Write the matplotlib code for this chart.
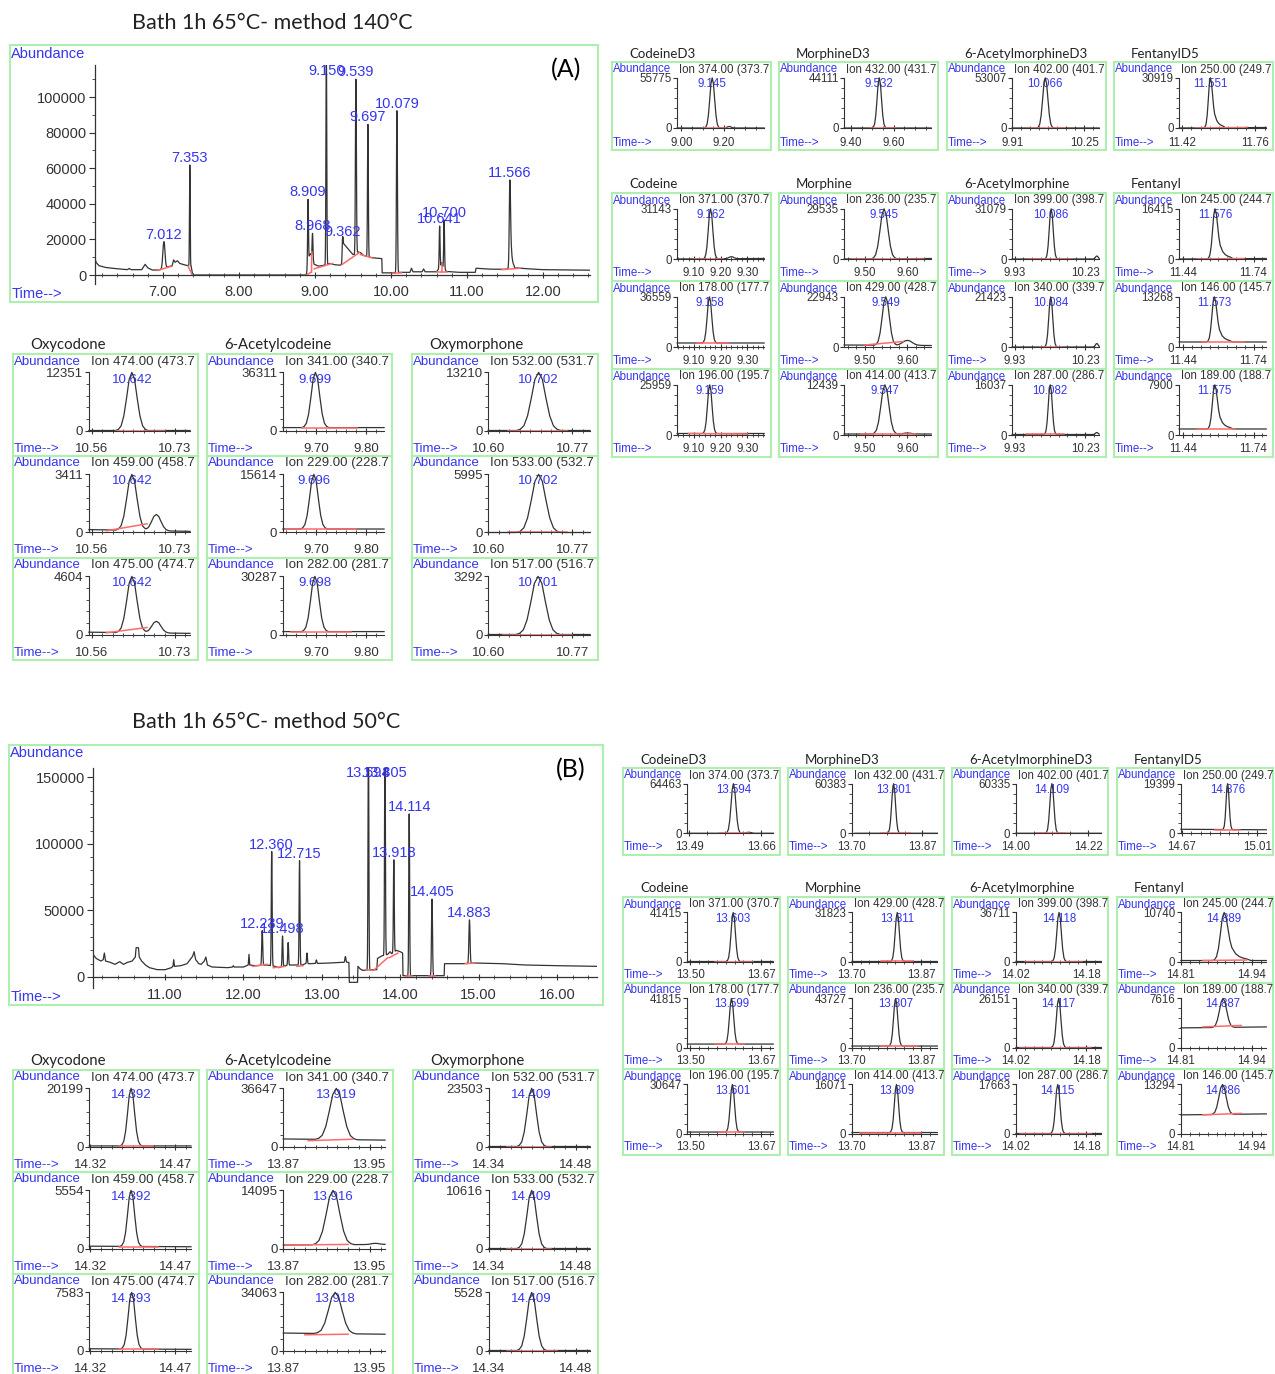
import matplotlib
matplotlib.use("Agg")
import matplotlib.pyplot as plt
import matplotlib.transforms as mtransforms
import numpy as np

W, H = 1275, 1374
BLUE = '#3535ee'
RED = '#ff6a6a'
INK = '#333333'
GREEN = '#aeeeae'
TITLE_FONT = ['Lato', 'DejaVu Sans']

plt.rcParams['font.family'] = ['Liberation Sans', 'DejaVu Sans']

# peak profiles: offset (in peak widths) -> fraction of height
SYM_X = [-3, -2.5, -2, -1.5, -1, -0.5, 0, 0.5, 1, 1.5, 2, 2.5, 3]
SYM_Y = [0, 0.02, 0.08, 0.25, 0.55, 0.88, 1, 0.88, 0.55, 0.25, 0.08, 0.02, 0]
TAIL_X = [-3, -2.5, -2, -1.5, -1, -0.5, 0, 0.5, 1, 1.5, 2, 3, 4, 5, 6, 7]
TAIL_Y = [0, 0.02, 0.08, 0.25, 0.55, 0.88, 1, 0.9, 0.66, 0.42, 0.27, 0.14, 0.08, 0.05, 0.03, 0]
PROFILE_X = {'sym': SYM_X, 'tail': TAIL_X}
PROFILE_Y = {'sym': SYM_Y, 'tail': TAIL_Y}

# ---------------- (A) method 140 C : total ion chromatogram ----------------
A_BASE_T = [6.105, 6.12, 6.16, 6.25, 6.4, 6.53, 6.555, 6.58, 6.72, 6.765, 6.80, 6.86, 6.95,
            7.08, 7.12, 7.14, 7.16, 7.19, 7.22, 7.30, 7.37, 7.385, 7.40, 8.885, 8.93, 8.945,
            8.99, 9.05, 9.12, 9.20, 9.26, 9.33, 9.355, 9.37, 9.40, 9.45, 9.50, 9.52, 9.565,
            9.60, 9.64, 9.68, 9.72, 9.80, 9.88, 9.885, 10.05, 10.12, 10.25, 10.27, 10.29,
            10.41, 10.43, 10.45, 10.60, 10.655, 10.668, 10.68, 10.73, 10.90, 11.11, 11.12,
            11.30, 11.50, 11.65, 11.80, 12.00, 12.62]
A_BASE_Y = [9500, 7000, 5200, 4200, 3500, 3000, 3700, 3000, 3000, 6000, 4000, 2800, 2800,
            4800, 5200, 8500, 7200, 8000, 6500, 5500, 5000, 1500, 0, 0, 11500, 12000,
            6000, 5000, 5500, 6500, 5800, 5500, 6000, 18000, 16500, 14000, 11500, 11500, 13000,
            12500, 11000, 10500, 10000, 9500, 9200, 1200, 1200, 1500, 1500, 3800, 1800,
            1800, 3400, 1800, 1800, 5000, 7000, 5000, 2000, 1500, 1500, 3800,
            3300, 3200, 4000, 3500, 3000, 2700]
A_PEAK_RT = [7.012, 7.353, 8.909, 8.968, 9.150, 9.362, 9.539, 9.697, 10.079, 10.641, 10.700, 11.566]
A_PEAK_TOP = [18700, 61800, 42500, 23400, 125000, 20200, 110000, 84600, 92300, 27500, 30900, 53400]
A_PEAK_W = [0.015, 0.005, 0.006, 0.006, 0.006, 0.006, 0.007, 0.006, 0.007, 0.006, 0.006, 0.009]
A_PEAK_SHAPE = ['sym'] * 11 + ['tail']
A_PEAK_LABEL = ['7.012', '7.353', '8.909', '8.968', '9.150', '9.362', '9.539', '9.697',
                '10.079', '10.641', '10.700', '11.566']
A_RED = [(6.93, 2600, 7.12, 5000), (7.33, 5000, 7.385, 0), (8.89, 0, 8.945, 1500),
         (8.955, 1500, 8.957, 13000), (8.99, 3500, 9.23, 6500), (9.36, 6000, 9.58, 12500),
         (9.60, 11500, 9.76, 9500), (10.02, 1000, 10.14, 1200), (10.60, 1600, 10.74, 1600),
         (10.668, 1600, 10.668, 7000), (11.46, 3000, 11.70, 3800)]

# ---------------- (B) method 50 C : total ion chromatogram ----------------
B_BASE_T = [10.08, 10.12, 10.18, 10.21, 10.225, 10.24, 10.30, 10.36, 10.42, 10.47, 10.52, 10.58,
            10.62, 10.63, 10.66, 10.67, 10.70, 10.75, 10.80, 10.90, 11.00, 11.08, 11.10, 11.11,
            11.12, 11.20, 11.28, 11.33, 11.35, 11.37, 11.39, 11.43, 11.46, 11.50, 11.52, 11.54,
            11.60, 11.80, 11.86, 11.87, 11.88, 12.00, 12.06, 12.07, 12.08, 12.15, 12.30, 12.40,
            12.45, 12.53, 12.60, 12.68, 12.75, 12.79, 12.85, 13.10, 13.25, 13.345, 13.35,
            13.455, 13.46, 13.49, 13.52, 13.70, 13.71, 13.77, 13.84, 13.87, 13.89, 13.95,
            14.00, 14.03, 14.035, 14.56, 14.565, 14.80, 14.95, 15.30, 15.60, 16.00, 16.51]
B_BASE_Y = [17000, 14000, 12000, 13000, 18000, 12000, 11000, 9500, 11500, 9500, 11000, 12000,
            15000, 22000, 22000, 15000, 12000, 9000, 7000, 5500, 5500, 7000, 8000, 13000,
            8000, 8500, 10000, 14000, 15500, 19000, 13000, 10000, 9500, 12000, 15000, 9000,
            7500, 7000, 7500, 8500, 7500, 7500, 9000, 17000, 9000, 8500, 9000, 8000,
            7000, 8500, 9000, 9000, 9000, 10000, 10000, 10500, 11000, 11000, -4000,
            -4000, 8000, 6000, 5000, 5500, 14000, 16000, 17000, 19000, 17500, 20000,
            19000, 18000, 1000, 1000, 10000, 10000, 10500, 10000, 9000, 8500, 8000]
B_PEAK_RT = [12.239, 12.360, 12.498, 12.57, 12.715, 12.81, 12.93, 13.30, 13.594, 13.805,
             13.918, 14.114, 14.405, 14.883]
B_PEAK_TOP = [34800, 94200, 30800, 25800, 87400, 18000, 12800, 15300, 175000, 175000,
              88000, 122500, 58400, 42900]
B_PEAK_W = [0.007, 0.006, 0.006, 0.006, 0.006, 0.006, 0.006, 0.007, 0.006, 0.006,
            0.006, 0.006, 0.007, 0.008]
B_PEAK_SHAPE = ['sym'] * 14
B_PEAK_LABEL = ['12.239', '12.360', '12.498', '', '12.715', '', '', '', '13.594', '13.805',
                '13.918', '14.114', '14.405', '14.883']
B_RED = [(12.12, 8000, 12.30, 9500), (12.38, 7000, 12.47, 7500), (12.47, 7500, 12.53, 8000),
         (12.68, 8000, 12.76, 8500), (13.56, 5000, 13.63, 5000), (13.66, 5000, 13.84, 14500),
         (13.86, 14500, 13.97, 18000), (14.07, 1000, 14.15, 1000), (14.37, 1000, 14.44, 1000),
         (14.83, 10000, 14.95, 10500)]

# ---------------- extracted ion panels ----------------
GROUPS = ['CodeineD3', 'MorphineD3', '6-AcetylmorphineD3', 'FentanylD5', 'Codeine', 'Morphine',
          '6-Acetylmorphine', 'Fentanyl', 'Oxycodone', '6-Acetylcodeine', 'Oxymorphone']
GROUP_SIZE = [1, 1, 1, 1, 3, 3, 3, 3, 3, 3, 3]

A_GROUP_XLIM = [(8.98, 9.39), (9.367, 9.776), (9.91, 10.32), (11.406, 11.81), (9.037, 9.363),
                (9.451, 9.656), (9.92, 10.29), (11.423, 11.794), (10.554, 10.761),
                (9.634, 9.836), (10.60, 10.806)]
A_GROUP_TICKS = [(9.00, 9.20), (9.40, 9.60), (9.91, 10.25), (11.42, 11.76), (9.10, 9.20, 9.30),
                 (9.50, 9.60), (9.93, 10.23), (11.44, 11.74), (10.56, 10.73), (9.70, 9.80),
                 (10.60, 10.77)]
A_GROUP_MINOR = [0.05, 0.05, 0.0425, 0.0425, 0.02, 0.02, 0.0375, 0.0375, 0.02125, 0.02, 0.02125]

A_ION = ['374.00 (373.7', '432.00 (431.7', '402.00 (401.7', '250.00 (249.7',
         '371.00 (370.7', '178.00 (177.7', '196.00 (195.7',
         '236.00 (235.7', '429.00 (428.7', '414.00 (413.7',
         '399.00 (398.7', '340.00 (339.7', '287.00 (286.7',
         '245.00 (244.7', '146.00 (145.7', '189.00 (188.7',
         '474.00 (473.7', '459.00 (458.7', '475.00 (474.7',
         '341.00 (340.7', '229.00 (228.7', '282.00 (281.7',
         '532.00 (531.7', '533.00 (532.7', '517.00 (516.7']
A_ION_MAX = [55775, 44111, 53007, 30919, 31143, 36559, 25959, 29535, 22943, 12439, 31079, 21423,
             16037, 16415, 13268, 7900, 12351, 3411, 4604, 36311, 15614, 30287, 13210, 5995, 3292]
A_ION_RT = [9.145, 9.532, 10.066, 11.551, 9.162, 9.158, 9.159, 9.545, 9.549, 9.547, 10.086,
            10.084, 10.082, 11.576, 11.573, 11.575, 10.642, 10.642, 10.642, 9.699, 9.696, 9.698,
            10.702, 10.702, 10.701]
A_ION_W = [0.012, 0.011, 0.013, 0.01, 0.009, 0.009, 0.009, 0.01, 0.009, 0.01, 0.009, 0.009,
           0.009, 0.011, 0.011, 0.011, 0.011, 0.011, 0.011, 0.009, 0.009, 0.009, 0.015, 0.015, 0.015]
A_ION_SHAPE = ['sym', 'sym', 'sym', 'tail'] + ['sym'] * 9 + ['tail'] * 3 + ['sym'] * 9
A_ION_BASE = [(0, 0), (0, 0), (0, 0), (0, 0.01), (0, 0.01), (0.08, 0.08), (0.03, 0.03), (0, 0.01),
              (0.04, 0.03), (0.02, 0.02), (0, 0), (0, 0), (0.01, 0.01), (0, 0.01), (0.1, 0.1),
              (0.12, 0.12), (0, 0), (0.05, 0.02), (0.04, 0.02), (0.05, 0.05), (0.06, 0.06),
              (0.05, 0.05), (0, 0), (0, 0), (0, 0)]
A_ION_BUMP = [(9.225, 0.03, 0.01), None, None, None, (9.24, 0.04, 0.01), None, None, None,
              (9.60, 0.1, 0.012), (9.60, 0.02, 0.01), (10.28, 0.06, 0.006), (10.28, 0.07, 0.006),
              (10.28, 0.04, 0.006), None, None, None, None, (10.692, 0.28, 0.01),
              (10.692, 0.2, 0.01), None, None, None, None, None, None]
A_ION_RED = [(9.10, 0, 9.21, 0), (9.49, 0, 9.61, 0), (10.00, 0, 10.16, 0), (11.48, 0, 11.72, 0.01),
             (9.10, 0, 9.21, 0), (9.11, 0.08, 9.23, 0.08), (9.08, 0.03, 9.30, 0.02),
             (9.47, 0, 9.64, 0), (9.50, 0.04, 9.59, 0.11), (9.49, 0.02, 9.62, 0.02),
             (9.99, 0, 10.17, 0), (10.04, 0, 10.13, 0), (9.98, 0.01, 10.14, 0.01),
             (11.50, 0, 11.70, 0.01), (11.52, 0.1, 11.70, 0.1), (11.50, 0.12, 11.66, 0.12),
             (10.61, 0, 10.71, 0), (10.59, 0.03, 10.673, 0.15), (10.59, 0.03, 10.673, 0.12),
             (9.672, 0.05, 9.782, 0.05), (9.64, 0.06, 9.78, 0.06), (9.65, 0.05, 9.77, 0.05),
             (10.64, 0, 10.76, 0), (10.64, 0, 10.76, 0), (10.63, 0, 10.77, 0)]

B_GROUP_XLIM = [(13.485, 13.688), (13.707, 13.907), (14.00, 14.259), (14.665, 15.051),
                (13.493, 13.699), (13.70, 13.909), (14.02, 14.214), (14.81, 14.966),
                (14.318, 14.498), (13.87, 13.964), (14.34, 14.503)]
B_GROUP_TICKS = [(13.49, 13.66), (13.70, 13.87), (14.00, 14.22), (14.67, 15.01), (13.50, 13.67),
                 (13.70, 13.87), (14.02, 14.18), (14.81, 14.94), (14.32, 14.47), (13.87, 13.95),
                 (14.34, 14.48)]
B_GROUP_MINOR = [0.0425, 0.0425, 0.055, 0.0425, 0.02125, 0.02125, 0.02, 0.01625, 0.01875,
                 0.01, 0.0175]

B_ION = ['374.00 (373.7', '432.00 (431.7', '402.00 (401.7', '250.00 (249.7',
         '371.00 (370.7', '178.00 (177.7', '196.00 (195.7',
         '429.00 (428.7', '236.00 (235.7', '414.00 (413.7',
         '399.00 (398.7', '340.00 (339.7', '287.00 (286.7',
         '245.00 (244.7', '189.00 (188.7', '146.00 (145.7',
         '474.00 (473.7', '459.00 (458.7', '475.00 (474.7',
         '341.00 (340.7', '229.00 (228.7', '282.00 (281.7',
         '532.00 (531.7', '533.00 (532.7', '517.00 (516.7']
B_ION_MAX = [64463, 60383, 60335, 19399, 41415, 41815, 30647, 31823, 43727, 16071, 36711, 26151,
             17663, 10740, 7616, 13294, 20199, 5554, 7583, 36647, 14095, 34063, 23503, 10616, 5528]
B_ION_RT = [13.594, 13.801, 14.109, 14.876, 13.603, 13.599, 13.601, 13.811, 13.807, 13.809,
            14.118, 14.117, 14.115, 14.889, 14.887, 14.886, 14.392, 14.392, 14.393, 13.919,
            13.916, 13.918, 14.409, 14.409, 14.409]
B_ION_W = [0.006, 0.005, 0.0065, 0.0075, 0.0055, 0.0055, 0.0055, 0.0055, 0.0055, 0.0055,
           0.0055, 0.0055, 0.0055, 0.007, 0.007, 0.007, 0.0065, 0.0065, 0.0065, 0.0065,
           0.0065, 0.0065, 0.008, 0.008, 0.008]
B_ION_SHAPE = ['sym'] * 13 + ['tail'] + ['sym'] * 11
B_ION_BASE = [(0, 0), (0, 0), (0, 0), (0.08, 0.07), (0, 0), (0.07, 0.07), (0.03, 0.03), (0, 0),
              (0.03, 0.03), (0.02, 0.02), (0, 0), (0, 0), (0, 0), (0.02, 0.02), (0.4, 0.42),
              (0.38, 0.4), (0.01, 0.01), (0.04, 0.03), (0.03, 0.02), (0.13, 0.11), (0.06, 0.07),
              (0.3, 0.28), (0, 0), (0, 0), (0, 0)]
B_ION_BUMP = [(13.63, 0.02, 0.006)] + [None] * 19 + [(13.955, 0.02, 0.004)] + [None] * 4
B_ION_RED = [(13.56, 0, 13.63, 0), (13.77, 0, 13.84, 0), (14.06, 0, 14.15, 0),
             (14.82, 0.07, 14.93, 0.07),
             (13.56, 0, 13.65, 0), (13.56, 0.07, 13.63, 0.07), (13.57, 0.03, 13.63, 0.03),
             (13.77, 0.02, 13.85, 0.02), (13.77, 0.03, 13.86, 0.03), (13.72, 0.02, 13.87, 0.02),
             (14.04, 0, 14.17, 0), (14.03, 0, 14.19, 0), (14.03, 0, 14.19, 0),
             (14.85, 0.02, 14.93, 0.03), (14.85, 0.42, 14.92, 0.45), (14.85, 0.38, 14.92, 0.41),
             (14.37, 0.01, 14.43, 0.01), (14.37, 0.03, 14.44, 0.03), (14.37, 0.02, 14.44, 0.02),
             (13.893, 0.1, 13.934, 0.125), (13.872, 0.06, 13.93, 0.07), (13.89, 0.27, 13.93, 0.28),
             (14.37, 0, 14.44, 0), (14.37, 0, 14.44, 0), (14.37, 0, 14.45, 0)]

fig = plt.figure(figsize=(W / 100, H / 100), dpi=100)


def px_axes(x0, y0, x1, y1):
    return fig.add_axes([x0 / W, 1 - y1 / H, (x1 - x0) / W, (y1 - y0) / H])


def green_frame(x0, y0, x1, y1):
    fr = px_axes(x0, y0, x1, y1)
    fr.set_xticks([])
    fr.set_yticks([])
    fr.patch.set_visible(False)
    for sp in fr.spines.values():
        sp.set_edgecolor(GREEN)
        sp.set_linewidth(1.5)
    return fr


def build_trace(knot_t, knot_y, rts, tops, widths, shapes):
    knot_t = np.asarray(knot_t, float)
    knot_y = np.asarray(knot_y, float)
    parts = [knot_t]
    for rt, w, s in zip(rts, widths, shapes):
        parts.append(rt + np.asarray(PROFILE_X[s]) * w)
    t = np.unique(np.concatenate(parts))
    t = t[(t >= knot_t[0]) & (t <= knot_t[-1])]
    y = np.interp(t, knot_t, knot_y)
    for rt, top, w, s in zip(rts, tops, widths, shapes):
        lift = top - np.interp(rt, knot_t, knot_y)
        px = rt + np.asarray(PROFILE_X[s]) * w
        y = y + lift * np.interp(t, px, PROFILE_Y[s], left=0, right=0)
    return t, y


def minor_positions(lo, hi, anchor, step):
    k0 = int(np.ceil((lo - anchor) / step - 1e-9))
    k1 = int(np.floor((hi - anchor) / step + 1e-9))
    return [anchor + k * step for k in range(k0, k1 + 1)]


def main_chart(fbox, abox, ylim, zero_px, base_t, base_y, rts, tops, widths, shapes, labels,
               cap, reds, xmajor, ymajor, tag):
    x0, y0, x1, y1 = fbox
    fr = green_frame(x0, y0, x1, y1)
    fh = y1 - y0
    fs = 10.5
    fr.text(0.002, 1 - 8.5 / fh, 'Abundance', color=BLUE, fontsize=fs, va='center',
            transform=fr.transAxes)
    fr.text(0.002, 8 / fh, 'Time-->', color=BLUE, fontsize=fs, va='center', transform=fr.transAxes)
    fr.text(0.945, 1 - 25 / fh, tag, fontsize=18, family=TITLE_FONT, ha='center', va='center',
            transform=fr.transAxes)

    ax = px_axes(*abox)
    ax.patch.set_visible(False)
    ax.set_xlim(base_t[0], base_t[-1])
    ax.set_ylim(*ylim)
    for s in ('top', 'right'):
        ax.spines[s].set_visible(False)
    ax.spines['bottom'].set_position(('data', 0))
    for s in ('left', 'bottom'):
        ax.spines[s].set_color(INK)
        ax.spines[s].set_linewidth(0.9)

    t, y = build_trace(base_t, base_y, rts, tops, widths, shapes)
    ax.plot(t, y, color=INK, lw=0.9)
    for t0, v0, t1, v1 in reds:
        ax.plot([t0, t1], [v0, v1], color=RED, lw=1.1)
    for rt, top, lab in zip(rts, tops, labels):
        if lab:
            ax.text(rt, min(top, cap), lab, color=BLUE, fontsize=fs, ha='center', va='bottom')

    ax.set_xticks(xmajor)
    ax.set_xticks(minor_positions(base_t[0], base_t[-1], xmajor[0], 0.2), minor=True)
    ax.tick_params(axis='x', which='major', direction='inout', length=5, color=INK,
                   labelbottom=False)
    ax.tick_params(axis='x', which='minor', direction='inout', length=3, color=INK)
    blend = mtransforms.blended_transform_factory(ax.transData, fr.transAxes)
    for v in xmajor:
        fr.text(v, 10 / fh, f'{v:.2f}', transform=blend, ha='center', va='center',
                fontsize=fs, color=INK)
    ax.set_yticks(ymajor)
    ax.set_yticklabels([f'{v:d}' for v in ymajor], fontsize=fs, color=INK)
    ax.set_yticks(minor_positions(0, ylim[1], 0, 10000), minor=True)
    ax.tick_params(axis='y', which='major', direction='out', length=4, pad=2, color=INK)
    ax.tick_params(axis='y', which='minor', direction='out', length=2, color=INK)
    return ax


def ion_panel(box, fs, xlim, ticks, minor, ion, ymax, rt, w, shape, base, bump, red, title):
    x0, y0, x1, y1 = box
    fw, fh = x1 - x0, y1 - y0
    fr = green_frame(x0, y0, x1, y1)
    fr.text(0.006, 1 - 7.5 / fh, 'Abundance', color=BLUE, fontsize=fs, va='center',
            transform=fr.transAxes)
    fr.text(0.42, 1 - 7.5 / fh, 'Ion ' + ion, color=INK, fontsize=fs, va='center',
            transform=fr.transAxes, clip_on=True)
    fr.text(0.006, 7.5 / fh, 'Time-->', color=BLUE, fontsize=fs, va='center',
            transform=fr.transAxes)
    if title:
        fig.text((x0 + 17) / W, 1 - (y0 - 8.5) / H, title, fontsize=fs + 1.2,
                 family=TITLE_FONT, va='center', color='#222222')

    ax = px_axes(x0 + 0.41 * fw, y0 + 0.18 * fh, x0 + 0.957 * fw, y0 + 0.75 * fh)
    ax.patch.set_visible(False)
    ax.set_xlim(*xlim)
    ax.set_ylim(0, ymax)
    for s in ('top', 'right'):
        ax.spines[s].set_visible(False)
    for s in ('left', 'bottom'):
        ax.spines[s].set_color(INK)
        ax.spines[s].set_linewidth(0.8)

    knot_t = [xlim[0], xlim[1]]
    knot_y = [base[0] * ymax, base[1] * ymax]
    rts, tops, widths, shapes = [rt], [ymax], [w], [shape]
    if bump:
        bt, bh, bw = bump
        rts.append(bt)
        tops.append(np.interp(bt, knot_t, knot_y) + bh * ymax)
        widths.append(bw)
        shapes.append('sym')
    t, y = build_trace(knot_t, knot_y, rts, tops, widths, shapes)
    ax.plot(t, y, color=INK, lw=0.9, clip_on=False)
    ax.plot([red[0], red[2]], [red[1] * ymax, red[3] * ymax], color=RED, lw=1.1)

    ax.set_xticks(ticks)
    ax.set_xticks(minor_positions(xlim[0], xlim[1], ticks[0], minor), minor=True)
    ax.tick_params(axis='x', which='major', direction='inout', length=5, color=INK,
                   labelbottom=False)
    ax.tick_params(axis='x', which='minor', direction='inout', length=3, color=INK)
    ax.set_yticks([0, ymax])
    ax.set_yticklabels(['0', f'{ymax:d}'], fontsize=fs, color=INK)
    ax.set_yticks([ymax * k / 5 for k in range(1, 5)], minor=True)
    ax.tick_params(axis='y', which='major', direction='out', length=3, pad=1, color=INK)
    ax.tick_params(axis='y', which='minor', direction='out', length=2, color=INK)

    blend = mtransforms.blended_transform_factory(ax.transData, fr.transAxes)
    for v in ticks:
        fr.text(v, 7.5 / fh, f'{v:.2f}', transform=blend, ha='center', va='center',
                fontsize=fs, color=INK)
    fr.text(rt, 1 - 0.25, f'{rt:.3f}', transform=blend, ha='center', va='center',
            fontsize=fs, color=BLUE)


def panel_boxes(right_cols, head_y, row_y, row_h, left_cols, low_y, low_h):
    boxes = []
    for c in range(4):
        boxes.append([(right_cols[c][0], head_y[0], right_cols[c][1], head_y[1])])
    for c in range(4):
        boxes.append([(right_cols[c][0], row_y + k * row_h, right_cols[c][1],
                       row_y + (k + 1) * row_h) for k in range(3)])
    for c in range(3):
        boxes.append([(left_cols[c][0], low_y + k * low_h, left_cols[c][1],
                       low_y + (k + 1) * low_h) for k in range(3)])
    return boxes


def ion_section(boxes, xlims, ticks, minors, ions, maxes, rts, ws, shapes, bases, bumps, reds):
    i = 0
    for g, name in enumerate(GROUPS):
        for k in range(GROUP_SIZE[g]):
            box = boxes[g][k]
            fs = 8.3 if box[2] - box[0] < 170 else 9.5
            ion_panel(box, fs, xlims[g], ticks[g], minors[g], ions[i], maxes[i], rts[i], ws[i],
                      shapes[i], bases[i], bumps[i], reds[i], name if k == 0 else None)
            i += 1


# ---------------- (A) ----------------
fig.text(132 / W, 1 - 23 / H, 'Bath 1h 65°C- method 140°C', fontsize=15.5, family=TITLE_FONT,
         va='center', color='#222222')
a_top = 118000
main_chart((10, 45, 598, 302), (95, 65, 590, 275 + 5000 * 178 / 1e5), (-5000, a_top), 275,
           A_BASE_T, A_BASE_Y, A_PEAK_RT, A_PEAK_TOP, A_PEAK_W, A_PEAK_SHAPE, A_PEAK_LABEL,
           110500, A_RED, [7.0, 8.0, 9.0, 10.0, 11.0, 12.0],
           [0, 20000, 40000, 60000, 80000, 100000], '(A)')
a_boxes = panel_boxes([(612, 771), (779, 938), (947, 1106), (1114, 1273)], (62, 150), 193, 88,
                      [(13, 198), (207, 392), (412, 598)], 354, 102)
ion_section(a_boxes, A_GROUP_XLIM, A_GROUP_TICKS, A_GROUP_MINOR, A_ION, A_ION_MAX, A_ION_RT,
            A_ION_W, A_ION_SHAPE, A_ION_BASE, A_ION_BUMP, A_ION_RED)

# ---------------- (B) ----------------
fig.text(132 / W, 1 - 722 / H, 'Bath 1h 65°C- method 50°C', fontsize=15.5, family=TITLE_FONT,
         va='center', color='#222222')
b_top = 157000
main_chart((9, 745, 603, 1005), (93, 768, 597, 977 + 8000 * 133 / 1e5), (-8000, b_top), 977,
           B_BASE_T, B_BASE_Y, B_PEAK_RT, B_PEAK_TOP, B_PEAK_W, B_PEAK_SHAPE, B_PEAK_LABEL,
           148000, B_RED, [11.0, 12.0, 13.0, 14.0, 15.0, 16.0],
           [0, 50000, 100000, 150000], '(B)')
b_boxes = panel_boxes([(623, 780), (788, 944), (952, 1108), (1117, 1273)], (768, 855), 897, 86,
                      [(13, 199), (207, 393), (413, 598)], 1070, 102)
ion_section(b_boxes, B_GROUP_XLIM, B_GROUP_TICKS, B_GROUP_MINOR, B_ION, B_ION_MAX, B_ION_RT,
            B_ION_W, B_ION_SHAPE, B_ION_BASE, B_ION_BUMP, B_ION_RED)

fig.savefig('out.png', dpi=100, facecolor='white')
